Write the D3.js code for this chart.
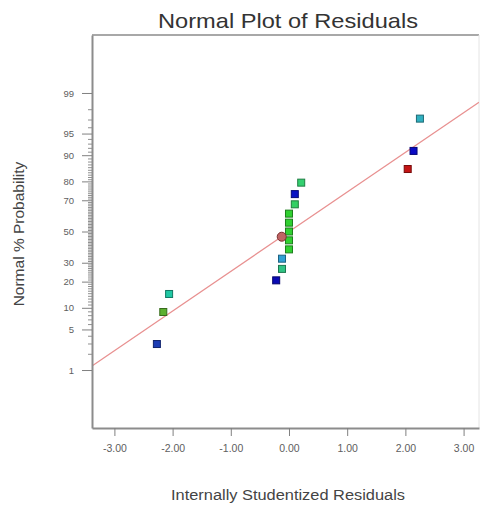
<!DOCTYPE html>
<html><head><meta charset="utf-8">
<script src="https://cdn.jsdelivr.net/npm/d3@7"></script>
<style>body{margin:0;background:#fff}svg{display:block}</style>
</head><body><script>
// ---- data ----
const residuals     = [-2.27, -2.16, -2.06, -0.22, -0.12, -0.12, 0.00, 0.00, 0.00, 0.00, 0.00, 0.10, 0.10, 0.21, 2.04, 2.14, 2.25];
const probabilities = [2.94, 8.82, 14.7, 20.6, 26.5, 32.4, 38.2, 44.1, 50.0, 55.9, 61.8, 67.6, 73.5, 79.4, 85.3, 91.2, 97.1];
const pointColors   = ["#1c3cb4", "#5cb030", "#20c8a4", "#0a0ab4", "#30c484", "#30a0d4", "#30d030", "#30d030", "#30d030", "#30d030", "#30d030", "#34d064", "#0a14c4", "#34d070", "#c41414", "#0a0ac4", "#30b0c0"];
const centerResidual = [-0.125];
const centerProbability = [46.5];
const lineResiduals = [-3.385, 3.265];
const lineProbabilities = [1.2, 98.5];
const yMajorTicks = [1, 5, 10, 20, 30, 50, 70, 80, 90, 95, 99];
const yMinorTicks = d3.range(1, 100).filter(v => !yMajorTicks.includes(v));
const xTicks = [-3, -2, -1, 0, 1, 2, 3];
const titleText = "Normal Plot of Residuals";
const xLabel = "Internally Studentized Residuals";
const yLabel = "Normal % Probability";

// inverse normal CDF (Acklam)
function probit(p) {
  const a = [-3.969683028665376e+01, 2.209460984245205e+02, -2.759285104469687e+02, 1.383577518672690e+02, -3.066479806614716e+01, 2.506628277459239e+00];
  const b = [-5.447609879822406e+01, 1.615858368580409e+02, -1.556989798598866e+02, 6.680131188771972e+01, -1.328068155288572e+01];
  const c = [-7.784894002430293e-03, -3.223964580411365e-01, -2.400758277161838e+00, -2.549732539343734e+00, 4.374664141464968e+00, 2.938163982698783e+00];
  const d = [7.784695709041462e-03, 3.224671290700398e-01, 2.445134137142996e+00, 3.754408661907416e+00];
  const pl = 0.02425, ph = 1 - pl;
  let q, r;
  if (p < pl) { q = Math.sqrt(-2 * Math.log(p)); return (((((c[0]*q+c[1])*q+c[2])*q+c[3])*q+c[4])*q+c[5]) / ((((d[0]*q+d[1])*q+d[2])*q+d[3])*q+1); }
  if (p > ph) { q = Math.sqrt(-2 * Math.log(1 - p)); return -(((((c[0]*q+c[1])*q+c[2])*q+c[3])*q+c[4])*q+c[5]) / ((((d[0]*q+d[1])*q+d[2])*q+d[3])*q+1); }
  q = p - 0.5; r = q * q;
  return (((((a[0]*r+a[1])*r+a[2])*r+a[3])*r+a[4])*r+a[5])*q / (((((b[0]*r+b[1])*r+b[2])*r+b[3])*r+b[4])*r+1);
}
const z = pct => probit(pct / 100);

// ---- layout ----
const W = 482, H = 514;
const L = 92, R = 479, T = 35, B = 428;
const svg = d3.select("body").append("svg").attr("width", W).attr("height", H)
  .style("font-family", "Arial, 'Liberation Sans', sans-serif");
svg.append("rect").attr("width", W).attr("height", H).attr("fill", "#fff");

const x = d3.scaleLinear().domain([-3.385, 3.265]).range([L, R]);
const y = d3.scaleLinear().domain([-3.3, 3.3]).range([B, T]);

// frame
svg.append("line").attr("x1", L).attr("x2", R).attr("y1", T).attr("y2", T).attr("stroke", "#a8a8a8").attr("stroke-width", 2);
svg.append("line").attr("x1", R).attr("x2", R).attr("y1", T).attr("y2", B).attr("stroke", "#e4e4e4").attr("stroke-width", 1);

// clip
svg.append("clipPath").attr("id", "clip").append("rect").attr("x", L).attr("y", T).attr("width", R - L).attr("height", B - T);

// fit line
const lineData = lineResiduals.map((r, i) => [r, lineProbabilities[i]]);
svg.append("path").attr("clip-path", "url(#clip)")
  .attr("d", d3.line().x(d => x(d[0])).y(d => y(z(d[1])))(lineData))
  .attr("fill", "none").attr("stroke", "#e89090").attr("stroke-width", 1.2);

// y axis minor ticks
const yMinor = svg.append("g").attr("transform", `translate(${L},0)`)
  .call(d3.axisLeft(y).tickValues(yMinorTicks.map(z)).tickSize(4).tickSizeOuter(0).tickFormat(""));
yMinor.select(".domain").remove();
yMinor.selectAll("line").attr("stroke", "#909090");

// y axis major
const yAx = svg.append("g").attr("transform", `translate(${L},0)`)
  .call(d3.axisLeft(y).tickValues(yMajorTicks.map(z)).tickSize(10).tickSizeOuter(0).tickPadding(8)
    .tickFormat((d, i) => yMajorTicks[i]));
yAx.select(".domain").attr("stroke", "#8c8c8c").attr("stroke-width", 2);
yAx.selectAll("line").attr("stroke", "#808080");
yAx.selectAll("text").attr("fill", "#606060").style("font-size", "9.5px");

// x axis
const xAx = svg.append("g").attr("transform", `translate(0,${B})`)
  .call(d3.axisBottom(x).tickValues(xTicks).tickSize(8).tickSizeOuter(0).tickPadding(9)
    .tickFormat(d => d.toFixed(2)));
xAx.select(".domain").attr("stroke", "#8c8c8c").attr("stroke-width", 2);
xAx.selectAll("line").attr("stroke", "#808080");
xAx.selectAll("text").attr("fill", "#606060").style("font-size", "10.5px");

// points
const pts = residuals.map((r, i) => ({ r, p: probabilities[i], c: pointColors[i] }));
const s = 7;
svg.append("g").selectAll("rect").data(pts).join("rect")
  .attr("x", d => x(d.r) - s / 2).attr("y", d => y(z(d.p)) - s / 2)
  .attr("width", s).attr("height", s)
  .attr("fill", d => d.c)
  .attr("stroke", d => d3.color(d.c).darker(1.4)).attr("stroke-width", 1);

// centre marker
svg.append("g").selectAll("circle").data(centerResidual).join("circle")
  .attr("cx", d => x(d)).attr("cy", (d, i) => y(z(centerProbability[i]))).attr("r", 4.5)
  .attr("fill", "#c06464").attr("stroke", "#7a3030").attr("stroke-width", 1);

// texts
svg.append("text").attr("x", 288).attr("y", 28).attr("text-anchor", "middle")
  .attr("textLength", 260).attr("lengthAdjust", "spacingAndGlyphs")
  .style("font-size", "21px").attr("fill", "#333").text(titleText);
svg.append("text").attr("x", 288).attr("y", 500).attr("text-anchor", "middle")
  .attr("textLength", 234).attr("lengthAdjust", "spacingAndGlyphs")
  .style("font-size", "14px").attr("fill", "#444").text(xLabel);
svg.append("text").attr("transform", "translate(24,234) rotate(-90)").attr("text-anchor", "middle")
  .style("font-size", "15.5px").attr("fill", "#444").text(yLabel);
</script></body></html>
